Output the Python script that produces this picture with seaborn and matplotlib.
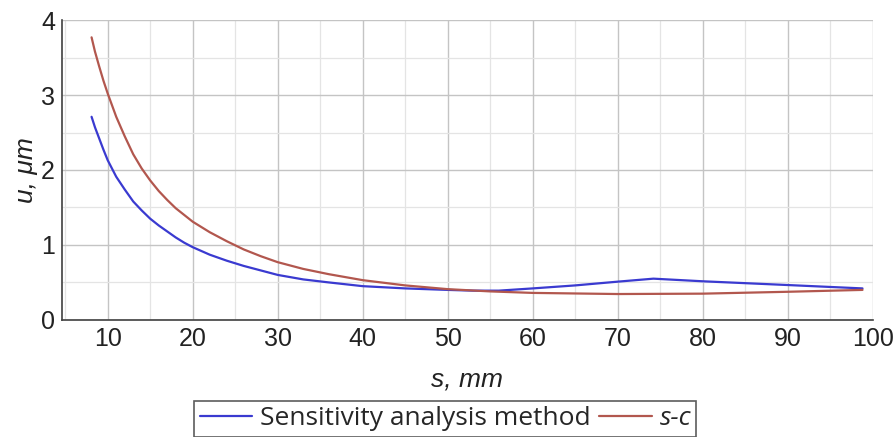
import numpy as np
import pandas as pd
import matplotlib
matplotlib.use("Agg")
import matplotlib.pyplot as plt
import seaborn as sns
from matplotlib.ticker import MultipleLocator

# values
s_sens = [8.1, 8.5, 9, 9.5, 10, 11, 12, 13, 14, 15, 16, 17, 18, 19, 20, 22, 24, 26, 28, 30,
          33, 36, 40, 45, 50, 53, 56, 60, 65, 70, 74.2, 80, 90, 98.8]
u_sens = [2.71, 2.57, 2.42, 2.27, 2.13, 1.91, 1.74, 1.58, 1.46, 1.35, 1.26, 1.18, 1.10, 1.03,
          0.97, 0.87, 0.79, 0.72, 0.66, 0.60, 0.54, 0.50, 0.45, 0.42, 0.40, 0.39, 0.39, 0.42,
          0.46, 0.51, 0.55, 0.515, 0.465, 0.42]
s_sc = [8.1, 8.5, 9, 9.5, 10, 11, 12, 13, 14, 15, 16, 17, 18, 19, 20, 22, 24, 26, 28, 30,
        33, 36, 40, 45, 50, 55, 60, 70, 80, 90, 98.8]
u_sc = [3.77, 3.58, 3.38, 3.19, 3.02, 2.71, 2.45, 2.21, 2.02, 1.86, 1.72, 1.60, 1.49, 1.40,
        1.31, 1.17, 1.05, 0.94, 0.85, 0.77, 0.68, 0.61, 0.53, 0.46, 0.41, 0.38, 0.36, 0.345,
        0.35, 0.375, 0.40]
labels = ["Sensitivity analysis method", "s-c"]

df = pd.concat([
    pd.DataFrame({"s": s_sens, "u": u_sens, "method": labels[0]}),
    pd.DataFrame({"s": s_sc, "u": u_sc, "method": labels[1]}),
])

sns.set_style("white")
plt.rcParams["font.family"] = ["Liberation Sans", "DejaVu Sans"]

fig = plt.figure(figsize=(8.96, 4.37), dpi=100)
ax = fig.add_axes([0.069, 0.268, 0.905, 0.686])

sns.lineplot(data=df, x="s", y="u", hue="method", sort=False,
             palette=["#3a3ad0", "#b2574e"], linewidth=1.6, ax=ax, legend=False)

ax.set_xlim(4.6, 100)
ax.set_ylim(0, 4)
ax.xaxis.set_major_locator(MultipleLocator(10))
ax.xaxis.set_minor_locator(MultipleLocator(5))
ax.yaxis.set_major_locator(MultipleLocator(1))
ax.yaxis.set_minor_locator(MultipleLocator(0.5))
ax.grid(which="major", color="#c4c4c4", linewidth=1.0)
ax.grid(which="minor", color="#e4e4e4", linewidth=0.9)
ax.set_axisbelow(True)

for side in ["top", "right"]:
    ax.spines[side].set_visible(False)
for side in ["left", "bottom"]:
    ax.spines[side].set_color("#404040")
    ax.spines[side].set_linewidth(1.2)

ax.tick_params(which="both", direction="inout", colors="#404040", labelcolor="#222222", labelsize=18)
ax.tick_params(which="major", length=6, pad=2)
ax.tick_params(which="minor", length=5)

ax.set_xlabel("s, mm", fontsize=19, style="italic", labelpad=12, color="#222222")
ax.set_ylabel("u, μm", fontsize=19, style="italic", labelpad=2, color="#222222")

handles = ax.get_lines()[:2]
leg = fig.legend(handles, labels, loc="upper center", bbox_to_anchor=(0.497, 0.082),
                 ncol=2, frameon=True, fancybox=False,
                 handlelength=2.0, handletextpad=0.3, columnspacing=0.3,
                 borderpad=0.2, borderaxespad=0,
                 prop={"family": ["Open Sans", "DejaVu Sans"], "size": 19})
leg.get_frame().set_edgecolor("#333333")
leg.get_frame().set_linewidth(1.2)
leg.get_texts()[1].set_style("italic")

fig.savefig("out.png", dpi=100)
